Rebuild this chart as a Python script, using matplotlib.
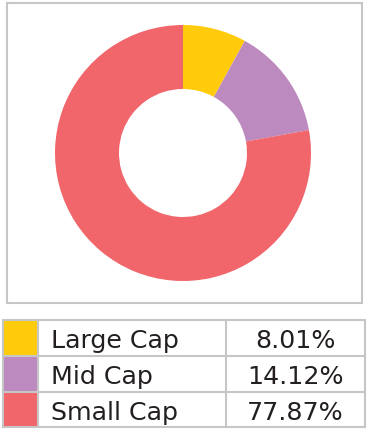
import matplotlib
matplotlib.use("Agg")
import matplotlib.pyplot as plt
from matplotlib.patches import Rectangle

labels = ["Large Cap", "Mid Cap", "Small Cap"]
shares = [8.01, 14.12, 77.87]
share_text = ["8.01%", "14.12%", "77.87%"]
colors = ["#FFCB0B", "#BC8ABF", "#F0666B"]

W, H = 371, 429
BORDER = "#C6C6C6"
plt.rcParams["font.family"] = ["DejaVu Sans"]

fig = plt.figure(figsize=(W / 100, H / 100), dpi=100)

# overlay in pixel coordinates for the frame and the table
ov = fig.add_axes([0, 0, 1, 1])
ov.set_xlim(0, W)
ov.set_ylim(H, 0)
ov.axis("off")

ov.add_patch(Rectangle((7, 3), 355, 300, fill=False, ec=BORDER, lw=1.5))

# donut
cx, cy, r = 183, 153, 128
ax = fig.add_axes([(cx - r) / W, (H - cy - r) / H, 2 * r / W, 2 * r / H])
ax.pie(shares, colors=colors, startangle=90, counterclock=False,
       radius=1, wedgeprops=dict(width=0.5, linewidth=0))
ax.set_xlim(-1, 1)
ax.set_ylim(-1, 1)
ax.set_aspect("equal")
ax.axis("off")

# legend table
rows = [320, 356, 392, 427]
cols = [3, 38, 226, 365]
for i, (lab, txt, c) in enumerate(zip(labels, share_text, colors)):
    y0, y1 = rows[i], rows[i + 1]
    ov.add_patch(Rectangle((cols[0], y0), cols[1] - cols[0], y1 - y0,
                           fc=c, ec="none", zorder=1))
    yb = y0 + 28
    ov.text(51, yb, lab, fontsize=18.2, color="#231F20",
            ha="left", va="baseline")
    ov.text((cols[2] + cols[3]) / 2, yb, txt, fontsize=18.2,
            color="#231F20", ha="center", va="baseline")
for y in rows:
    ov.plot([cols[0], cols[3]], [y, y], color=BORDER, lw=1.5, zorder=2)
for x in cols:
    ov.plot([x, x], [rows[0], rows[-1]], color=BORDER, lw=1.5, zorder=2)

fig.savefig("out.png", dpi=100)
